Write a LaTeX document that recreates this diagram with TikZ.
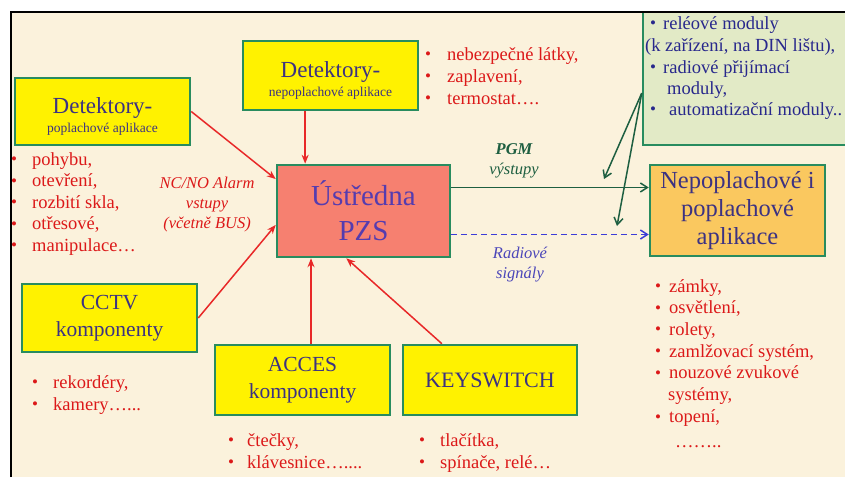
\documentclass[tikz,border=0pt]{standalone}
\usepackage{fontspec}
\setmainfont{Liberation Serif}
\usetikzlibrary{arrows.meta,calc}

\definecolor{slide}{RGB}{251,242,220}
\definecolor{boxgreen}{RGB}{40,140,95}
\definecolor{boxtext}{RGB}{60,50,130}
\definecolor{pzsfill}{RGB}{246,128,112}
\definecolor{pzstext}{RGB}{85,60,175}
\definecolor{appfill}{RGB}{250,200,95}
\definecolor{modfill}{RGB}{226,234,198}
\definecolor{modtext}{RGB}{40,40,140}
\definecolor{listred}{RGB}{220,25,25}
\definecolor{arrowred}{RGB}{232,40,40}
\definecolor{outgreen}{RGB}{30,95,65}
\definecolor{radioblue}{RGB}{60,60,215}
\definecolor{radiotext}{RGB}{75,70,185}

\newcommand{\bul}[1]{\makebox[#1][l]{\raisebox{0.5pt}{\fontsize{17}{17}\selectfont\textbullet}}}

\begin{document}
\begin{tikzpicture}[x=1pt,y=-1pt,
    box/.style={rectangle,draw=boxgreen,line width=2.5pt,fill=yellow,text=boxtext,align=center,inner sep=0pt},
    item/.style={anchor=base west,inner sep=0pt,text=listred,font=\fontsize{18.5}{22}\selectfont},
    moditem/.style={anchor=base west,inner sep=0pt,text=modtext,font=\fontsize{18.5}{22}\selectfont},
    feed/.style={draw=arrowred,line width=1.5pt,-{Stealth[length=9pt,width=7pt]}},
    pgmout/.style={draw=outgreen,line width=1.5pt,-{Straight Barb[length=7pt,width=9pt]}},
    radio/.style={draw=radioblue,line width=1.5pt,dash pattern=on 6pt off 4pt,-{Straight Barb[length=7pt,width=9pt]}},
    note/.style={align=center,inner sep=0pt,font=\itshape\fontsize{16.5}{20}\selectfont}
  ]
  \useasboundingbox (0,0) rectangle (845,477);
  \fill[white] (0,0) rectangle (845,477);
  \fill[slide] (11,12) rectangle (845,477);

  % boxes
  \node [box,minimum width=175pt,minimum height=67pt] (detP) at (102.5,111.5)
    {{\fontsize{23}{24}\selectfont\rule{0pt}{26pt}Detektory-}\\[4pt]{\fontsize{13.5}{15}\selectfont poplachové aplikace}};
  \node [box,minimum width=175pt,minimum height=69pt] (detN) at (330.5,75.5)
    {{\fontsize{23}{24}\selectfont\rule{0pt}{26pt}Detektory-}\\[4pt]{\fontsize{13.5}{15}\selectfont nepoplachové aplikace}};
  \node [box,fill=pzsfill,text=pzstext,minimum width=173pt,minimum height=92pt,
    font=\fontsize{29}{35}\selectfont] (ustr) at (363.5,211) {Ústředna\\PZS};
  \node [box,fill=appfill,minimum width=175pt,minimum height=91pt,
    font=\fontsize{24.5}{28}\selectfont] (nepo) at (737.5,210.5) {Nepoplachové i\\poplachové\\aplikace};
  \node [box,fill=modfill,minimum width=205pt,minimum height=133pt] (modul) at (745.5,78.5) {};
  \node [box,minimum width=175pt,minimum height=68pt,
    font=\fontsize{21.5}{27}\selectfont] (cctv) at (109.5,318) {CCTV\\komponenty};
  \node [box,minimum width=175pt,minimum height=70pt,
    font=\fontsize{21.5}{27}\selectfont] (acces) at (302.5,380) {ACCES\\komponenty};
  \node [box,minimum width=174pt,minimum height=70pt,
    font=\fontsize{22}{27}\selectfont] (keysw) at (490,380) {KEYSWITCH};

  % inputs
  \draw [feed] (detP.east) -- (ustr.160);
  \draw [feed] (ustr.141 |- detN.south) -- (ustr.141);
  \draw [feed] (cctv.east) -- (ustr.189);
  \draw [feed] (ustr.222 |- acces.north) -- (ustr.222);
  \draw [feed] (keysw.143) -- (ustr.250);

  % outputs
  \draw [pgmout] (ustr.15) -- (ustr.15 -| nepo.west);
  \draw [radio] (ustr.345) -- (ustr.345 -| nepo.west);
  \coordinate (pgmtip) at (604,179);
  \coordinate (radtip) at (617,226);
  \draw [pgmout] (modul.188) -- (pgmtip);
  \draw [pgmout] (modul.188) -- (radtip);

  \node [note,text=listred] (ncno) at (207,205) {NC/NO Alarm\\vstupy\\(včetně BUS)};
  \node [note,text=outgreen] (pgm) at (514,161) {\textbf{PGM}\\výstupy};
  \node [note,text=radiotext] (radlbl) at (520,265) {Radiové\\signály};

  % lists
  \foreach \t [count=\i from 0] in {{pohybu,},{otevření,},{rozbití skla,},{otřesové,},{manipulace…}}
    \node [item] (pl\i) at (11,165+21.5*\i) {\bul{21pt}\t};
  \foreach \t [count=\i from 0] in {{nebezpečné látky,},{zaplavení,},{termostat….}}
    \node [item] (nl\i) at (425,60+22*\i) {\bul{22pt}\t};
  \foreach \t [count=\i from 0] in {{rekordéry,},{kamery…{.}{.}{.}}}
    \node [item] (cl\i) at (32,388+22*\i) {\bul{21pt}\t};
  \foreach \t [count=\i from 0] in {{čtečky,},{klávesnice…{.}{.}{.}{.}}}
    \node [item] (al\i) at (228,446+22*\i) {\bul{19pt}\t};
  \foreach \t [count=\i from 0] in {{tlačítka,},{spínače, relé…}}
    \node [item] (kl\i) at (419,446+22*\i) {\bul{21pt}\t};
  \foreach \t [count=\i from 0] in {{zámky,},{osvětlení,},{rolety,},{zamlžovací systém,},{nouzové zvukové}}
    \node [item] (ap\i) at (655,292+21.7*\i) {\bul{14pt}\t};
  \node [item] (ap5) at (668,400.5) {systémy,};
  \node [item] (ap6) at (655,422.5) {\bul{14pt}topení,};
  \node [item] (ap7) at (675,447) {……..};

  \node [moditem] (m1) at (650,29) {\bul{13pt}reléové moduly};
  \node [moditem] (m2) at (645,51) {(k zařízení, na DIN lištu),};
  \node [moditem] (m3) at (650,73) {\bul{13pt}radiové přijímací};
  \node [moditem] (m4) at (667,94) {moduly,};
  \node [moditem] (m5) at (650,115) {\bul{19pt}automatizační moduly..};

  % slide frame
  \draw [line width=2pt] (11,477) -- (11,12) -- (845,12);
\end{tikzpicture}
\end{document}
